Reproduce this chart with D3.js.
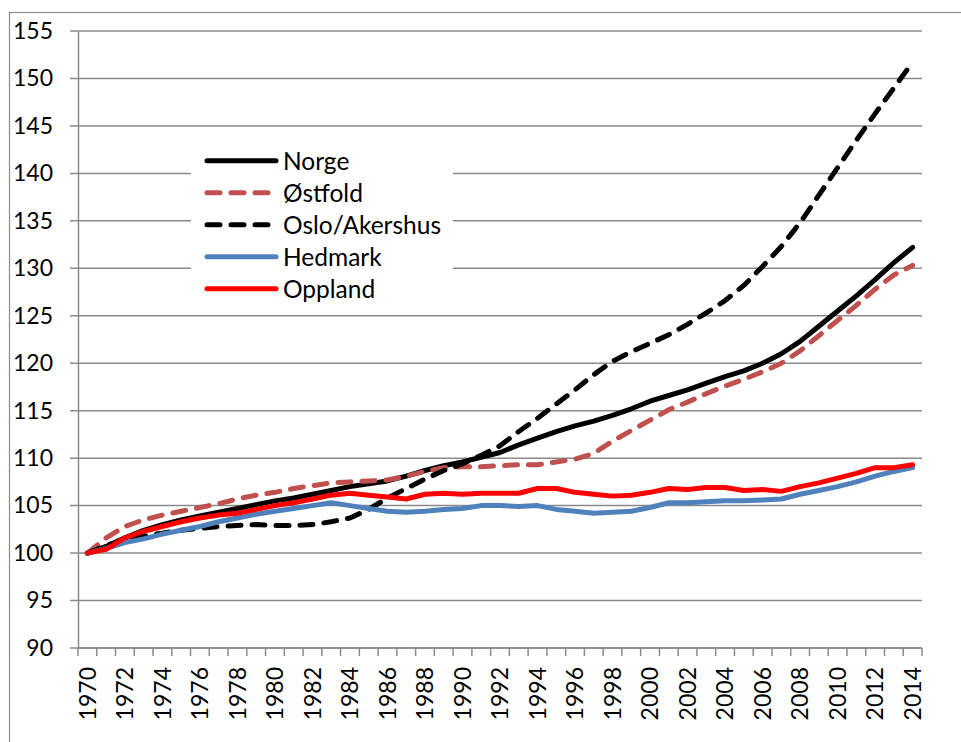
<!DOCTYPE html>
<html>
<head>
<meta charset="utf-8">
<script src="https://cdn.jsdelivr.net/npm/d3@7"></script>
<style>
  body { margin: 0; background: #fff; }
  svg { display: block; font-family: Lato, "Open Sans", sans-serif; }
</style>
</head>
<body>
<div class="chart"></div>
<script>
// years on the category axis
const years = d3.range(1970, 2015);

// index values, 1970 = 100
const norge = [100, 100.7, 101.6, 102.4, 103.0, 103.5, 103.9, 104.3, 104.7, 105.1,
  105.5, 105.8, 106.2, 106.6, 107.0, 107.3, 107.6, 108.1, 108.7, 109.2,
  109.6, 110.1, 110.6, 111.4, 112.1, 112.8, 113.4, 113.9, 114.5, 115.2,
  116.0, 116.6, 117.2, 117.9, 118.6, 119.2, 120.0, 121.0, 122.3, 123.9,
  125.5, 127.1, 128.8, 130.6, 132.2];
const ostfold = [100, 101.6, 102.8, 103.5, 104.0, 104.4, 104.8, 105.2, 105.7, 106.1,
  106.4, 106.8, 107.1, 107.4, 107.5, 107.6, 107.7, 108.1, 108.6, 109.0,
  109.1, 109.1, 109.2, 109.3, 109.3, 109.6, 109.9, 110.5, 111.8, 112.9,
  114.0, 115.1, 115.9, 116.8, 117.6, 118.3, 119.1, 120.0, 121.3, 122.9,
  124.5, 126.1, 127.8, 129.3, 130.3];
const osloAkershus = [100, 100.8, 101.4, 101.8, 102.1, 102.4, 102.6, 102.8, 102.9, 103.0,
  102.9, 102.9, 103.0, 103.3, 103.7, 104.6, 105.8, 106.8, 107.8, 108.7,
  109.4, 110.3, 111.3, 112.8, 114.2, 115.7, 117.2, 118.8, 120.2, 121.2,
  122.1, 123.0, 124.1, 125.3, 126.6, 128.2, 130.2, 132.3, 134.8, 137.7,
  140.6, 143.5, 146.3, 149.0, 151.7];
const hedmark = [100, 100.5, 101.1, 101.5, 102.0, 102.4, 102.8, 103.3, 103.7, 104.1,
  104.4, 104.7, 105.0, 105.3, 105.0, 104.7, 104.4, 104.3, 104.4, 104.6,
  104.7, 105.0, 105.0, 104.9, 105.0, 104.6, 104.4, 104.2, 104.3, 104.4,
  104.8, 105.3, 105.3, 105.4, 105.5, 105.5, 105.6, 105.7, 106.2, 106.6,
  107.0, 107.5, 108.1, 108.6, 109.0];
const oppland = [100, 100.4, 101.6, 102.3, 102.8, 103.3, 103.7, 104.0, 104.2, 104.6,
  105.0, 105.3, 105.7, 106.1, 106.3, 106.1, 105.9, 105.7, 106.2, 106.3,
  106.2, 106.3, 106.3, 106.3, 106.8, 106.8, 106.4, 106.2, 106.0, 106.1,
  106.4, 106.8, 106.7, 106.9, 106.9, 106.6, 106.7, 106.5, 107.0, 107.4,
  107.9, 108.4, 109.0, 109.0, 109.3];

const seriesNames = ["Norge", "Østfold", "Oslo/Akershus", "Hedmark", "Oppland"];
const seriesValues = [norge, ostfold, osloAkershus, hedmark, oppland];
const yTicks = d3.range(90, 156, 5);

const width = 961, height = 742;
const colors = ["#000000", "#C0504D", "#000000", "#4F81BD", "#FF0000"];
const dashes = [null, "13,11", "13,11", null, null];

const svg = d3.select(".chart").append("svg")
  .attr("width", width)
  .attr("height", height);

// outer chart border
svg.append("rect")
  .attr("x", 9.5).attr("y", 12.5)
  .attr("width", 1000).attr("height", 800)
  .attr("fill", "none")
  .attr("stroke", "#8a8a8a")
  .attr("stroke-width", 1.2);

const x = d3.scaleBand().domain(years).range([78, 922]).padding(0);
const y = d3.scaleLinear().domain([90, 155]).range([648, 31]);
const cx = d => x(d) + x.bandwidth() / 2;

// horizontal grid
svg.append("g")
  .selectAll("line")
  .data(yTicks)
  .join("line")
    .attr("x1", 70).attr("x2", 922)
    .attr("y1", d => y(d)).attr("y2", d => y(d))
    .attr("stroke", "#8a8a8a")
    .attr("stroke-width", 1.5);

// y axis
const yAxis = svg.append("g")
  .attr("transform", "translate(78,0)")
  .call(d3.axisLeft(y).tickValues(yTicks).tickSize(0).tickPadding(25));
yAxis.select(".domain").attr("stroke", "#8a8a8a").attr("stroke-width", 1.5);
yAxis.selectAll("text").attr("font-size", 23).attr("fill", "#000")
  .attr("font-family", "Lato");

// x axis: ticks at category boundaries, labels every 2nd year
const xAxis = svg.append("g")
  .attr("transform", "translate(0,648)");
xAxis.append("line")
  .attr("x1", 78).attr("x2", 922)
  .attr("stroke", "#8a8a8a").attr("stroke-width", 1.5);
xAxis.selectAll(".tk")
  .data(years.concat([2015]))
  .join("line")
    .attr("class", "tk")
    .attr("x1", d => d === 2015 ? 922 : x(d))
    .attr("x2", d => d === 2015 ? 922 : x(d))
    .attr("y1", 0).attr("y2", 8)
    .attr("stroke", "#8a8a8a").attr("stroke-width", 1.5);
xAxis.selectAll(".lbl")
  .data(years.filter(d => d % 2 === 0))
  .join("text")
    .attr("class", "lbl")
    .attr("transform", d => `translate(${cx(d)},19) rotate(-90)`)
    .attr("text-anchor", "end")
    .attr("dy", "0.36em")
    .attr("font-size", 23)
    .text(d => d);

// lines
const line = d3.line()
  .x((d, i) => cx(years[i]))
  .y(d => y(d));

svg.append("g")
  .selectAll("path")
  .data(seriesValues)
  .join("path")
    .attr("d", d => line(d))
    .attr("fill", "none")
    .attr("stroke", (d, i) => colors[i])
    .attr("stroke-width", 5)
    .attr("stroke-dasharray", (d, i) => dashes[i])
    .attr("stroke-linecap", "round")
    .attr("stroke-linejoin", "round");

// legend
const legend = svg.append("g");
legend.append("rect")
  .attr("x", 191).attr("y", 140)
  .attr("width", 262).attr("height", 165)
  .attr("fill", "#fff");
const rows = legend.selectAll(".row")
  .data(seriesNames)
  .join("g")
    .attr("class", "row")
    .attr("transform", (d, i) => `translate(0,${160.7 + i * 32})`);
rows.append("line")
  .attr("x1", 207).attr("x2", 276)
  .attr("stroke", (d, i) => colors[i])
  .attr("stroke-width", 5)
  .attr("stroke-dasharray", (d, i) => dashes[i])
  .attr("stroke-linecap", "round");
rows.append("text")
  .attr("x", 283)
  .attr("dy", "0.36em")
  .attr("font-size", 24.5)
  .text(d => d);
</script>
</body>
</html>
